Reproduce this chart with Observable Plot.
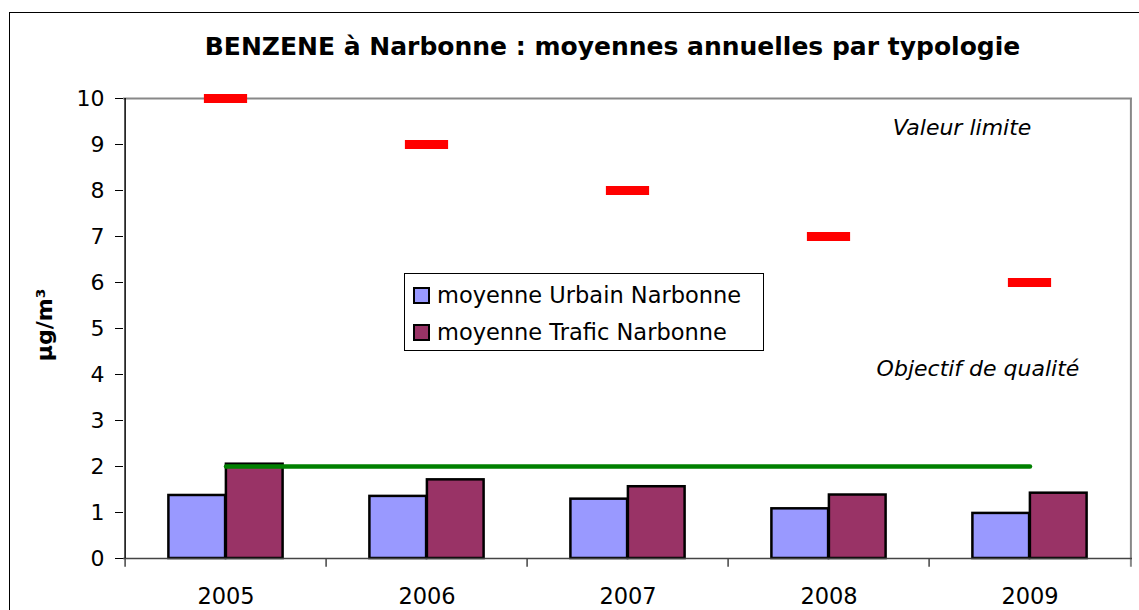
<!DOCTYPE html>
<html>
<head>
<meta charset="utf-8">
<script src="https://cdn.jsdelivr.net/npm/d3@7"></script>
<script src="https://cdn.jsdelivr.net/npm/@observablehq/plot@0.6"></script>
<style>
  html, body { margin: 0; padding: 0; background: #fff; }
  #wrap { position: relative; width: 1139px; height: 610px; overflow: hidden; font-family: "DejaVu Sans", sans-serif; }
  #wrap svg { position: absolute; left: 0; top: 0; }
  #border { position: absolute; left: 9px; top: 12px; width: 1200px; height: 700px; border: 1.5px solid #000; box-sizing: border-box; }
  #title { position: absolute; left: 0; width: 1225px; top: 32px; text-align: center; font-weight: bold; font-size: 25px; color: #000; }
  #ylabel { position: absolute; left: 44px; top: 325px; transform: translate(-50%, -50%) rotate(-90deg); font-weight: bold; font-size: 22px; white-space: nowrap; }
  #legend { position: absolute; left: 404px; top: 273px; width: 360px; height: 78px; border: 1px solid #000; background: #fff; box-sizing: border-box; font-size: 22.5px; }
  .row { position: absolute; left: 8px; display: flex; align-items: center; white-space: nowrap; }
  .sw { width: 13px; height: 13px; border: 2px solid #000; margin-right: 7px; }
</style>
</head>
<body>
<div id="wrap">
  <div id="border"></div>
</div>
<script>
const years = ["2005", "2006", "2007", "2008", "2009"];
const urbain = [1.37, 1.35, 1.29, 1.08, 0.98];
const trafic = [2.05, 1.71, 1.56, 1.38, 1.42];
const valeurLimite = [10, 9, 8, 7, 6];
const objectifQualite = [2, 2, 2, 2, 2];
const yTicks = [0, 1, 2, 3, 4, 5, 6, 7, 8, 9, 10];
const seriesNames = ["moyenne Urbain Narbonne", "moyenne Trafic Narbonne"];
const seriesColors = ["#9999ff", "#993366"];
const titleText = "BENZENE à Narbonne : moyennes annuelles par typologie";
const yLabelText = "µg/m³";
const annotLimite = [{label: "Valeur limite", year: "2009", value: 9.36}];
const annotObjectif = [{label: "Objectif de qualité", year: "2009", value: 4.13}];

const rows = years.map((y, i) => ({year: y, urbain: urbain[i], trafic: trafic[i], limite: valeurLimite[i], objectif: objectifQualite[i]}));

const W = 1139, H = 610, mL = 123, mR = 7, mT = 98, mB = 52;
const step = (W - mL - mR) / years.length;
const barW = 57.5;
const tickLen = 0.19;

const chart = Plot.plot({
  width: W, height: H,
  marginLeft: mL, marginRight: mR, marginTop: mT, marginBottom: mB,
  style: {fontFamily: "DejaVu Sans, sans-serif", color: "#000", background: "transparent"},
  x: {type: "band", domain: years, padding: 0},
  y: {domain: [0, 10]},
  marks: [
    Plot.ruleY([10], {stroke: "#888", strokeWidth: 2}),
    Plot.ruleX(["2009"], {x: d => d, dx: step / 2, y1: -tickLen, y2: 10, stroke: "#888", strokeWidth: 2}),
    Plot.barY(rows, {x: "year", y: "urbain", fill: seriesColors[0], stroke: "#000", strokeWidth: 2.5, insetLeft: step / 2 - barW, insetRight: step / 2}),
    Plot.barY(rows, {x: "year", y: "trafic", fill: seriesColors[1], stroke: "#000", strokeWidth: 2.5, insetLeft: step / 2, insetRight: step / 2 - barW}),
    Plot.ruleY([0], {stroke: "#444", strokeWidth: 1.5}),
    Plot.ruleX(years, {x: d => d, dx: -step / 2, y1: -tickLen, y2: 0, stroke: "#444", strokeWidth: 1.5}),
    Plot.ruleX(["2005"], {x: d => d, dx: -step / 2, y1: 0, y2: 10, stroke: "#000", strokeWidth: 1.5}),
    Plot.lineY(rows, {x: "year", y: "objectif", stroke: "#008000", strokeWidth: 4.5, strokeLinecap: "round"}),
    Plot.tickY(rows, {x: "year", y: "limite", stroke: "#ff0000", strokeWidth: 9, insetLeft: step / 2 - 22, insetRight: step / 2 - 22}),
    Plot.axisY({ticks: yTicks, tickSize: 8, tickPadding: 11, fontSize: 22, label: null, tickFormat: d => String(d)}),
    Plot.axisX({tickSize: 0, tickPadding: 30, fontSize: 22.5, label: null}),
    Plot.text(annotLimite, {x: "year", y: "value", text: "label", dx: -68, fontSize: 22, fontStyle: "italic"}),
    Plot.text(annotObjectif, {x: "year", y: "value", text: "label", dx: -52, fontSize: 22, fontStyle: "italic"})
  ]
});

const wrap = document.getElementById("wrap");
wrap.appendChild(chart);

const title = document.createElement("div");
title.id = "title";
title.textContent = titleText;
wrap.appendChild(title);

const ylab = document.createElement("div");
ylab.id = "ylabel";
ylab.textContent = yLabelText;
wrap.appendChild(ylab);

const legend = document.createElement("div");
legend.id = "legend";
seriesNames.forEach((name, i) => {
  const r = document.createElement("div");
  r.className = "row";
  r.style.top = (i === 0 ? 8 : 45) + "px";
  const sw = document.createElement("div");
  sw.className = "sw";
  sw.style.background = seriesColors[i];
  const t = document.createElement("span");
  t.textContent = name;
  r.appendChild(sw); r.appendChild(t);
  legend.appendChild(r);
});
wrap.appendChild(legend);
</script>
</body>
</html>
